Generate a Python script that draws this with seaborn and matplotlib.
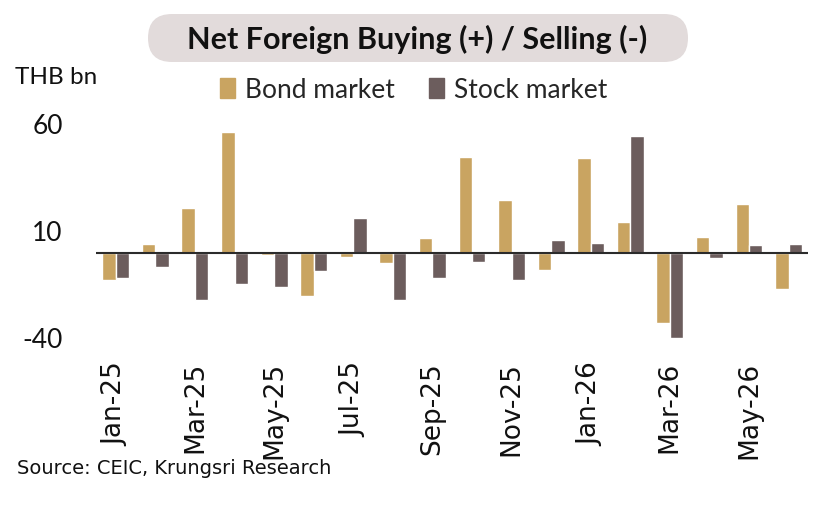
import pandas as pd
import matplotlib
matplotlib.use("Agg")
import matplotlib.pyplot as plt
import seaborn as sns
from matplotlib.patches import FancyBboxPatch, Patch

# data (THB bn)
months = ['Jan-25', 'Feb-25', 'Mar-25', 'Apr-25', 'May-25', 'Jun-25',
          'Jul-25', 'Aug-25', 'Sep-25', 'Oct-25', 'Nov-25', 'Dec-25',
          'Jan-26', 'Feb-26', 'Mar-26', 'Apr-26', 'May-26', 'Jun-26']
bond = [-12.5, 4.0, 20.9, 56.4, -1.1, -20.1, -2.0, -4.7, 6.7, 44.9,
        24.6, -8.1, 44.1, 14.3, -33.0, 7.2, 22.7, -17.0]
stock = [-11.7, -6.5, -22.0, -14.6, -16.2, -8.3, 16.4, -22.0, -12.0, -4.4,
         -12.6, 5.9, 4.4, 54.5, -39.9, -2.5, 3.7, 4.1]
series = ['Bond market', 'Stock market']
colors = ['#C9A461', '#6C5D5D']
yticks = [60, 10, -40]

df = pd.DataFrame({
    'month': months * 2,
    'value': bond + stock,
    'series': [series[0]] * len(months) + [series[1]] * len(months),
})

sns.set_theme(style='white')
plt.rcParams['font.family'] = ['Lato', 'DejaVu Sans']

fig = plt.figure(figsize=(8.4, 5.15), dpi=100)
ax = fig.add_axes([0.1143, 0.3430, 0.848, 0.4155])

sns.barplot(data=df, x='month', y='value', hue='series', order=months,
            hue_order=series, palette=colors, width=0.68, saturation=1,
            ax=ax, legend=False)

ax.set_xlim(-0.5, len(months) - 0.5)
ax.set_ylim(-40, 60)
ax.axhline(0, color='#2b2b2b', lw=1.5, zorder=5)
for s in ax.spines.values():
    s.set_visible(False)
ax.set_xlabel('')
ax.set_ylabel('')

ax.set_yticks(yticks)
ax.set_yticklabels([str(v) for v in yticks], fontsize=19, color='#111111')
ax.tick_params(axis='y', length=0, pad=24)

ax.set_xticks(range(0, len(months), 2))
ax.set_xticklabels(months[::2], rotation=90, color='#111111',
                   fontfamily='DejaVu Sans', fontsize=19)
ax.tick_params(axis='x', length=0, pad=17)

# overlay in pixel coordinates for title box and text
ov = fig.add_axes([0, 0, 1, 1], zorder=-1)
ov.set_xlim(0, 840)
ov.set_ylim(515, 0)
ov.set_axis_off()
ov.patch.set_alpha(0)

box = FancyBboxPatch((148, 14), 540, 48,
                     boxstyle='round,pad=0,rounding_size=24',
                     fc='#E2DBDB', ec='none')
ov.add_patch(box)
ov.text(417, 39, 'Net Foreign Buying (+) / Selling (-)', ha='center',
        va='center', fontsize=22, fontweight='bold', color='#111111')
ov.text(15, 78, 'THB bn', ha='left', va='center', fontsize=17.5,
        color='#111111')
ov.text(17, 468, 'Source: CEIC, Krungsri Research', ha='left',
        va='center', fontsize=14, color='#111111',
        family=['Liberation Sans Narrow', 'DejaVu Sans'])

handles = [Patch(color=c, label=l) for c, l in zip(colors, series)]
fig.legend(handles=handles, loc='center', bbox_to_anchor=(414 / 840, 1 - 90 / 515),
           ncol=2, frameon=False, fontsize=19, handlelength=0.55,
           handleheight=0.8, handletextpad=0.4, columnspacing=1.3)

fig.savefig('out.png', dpi=100)
